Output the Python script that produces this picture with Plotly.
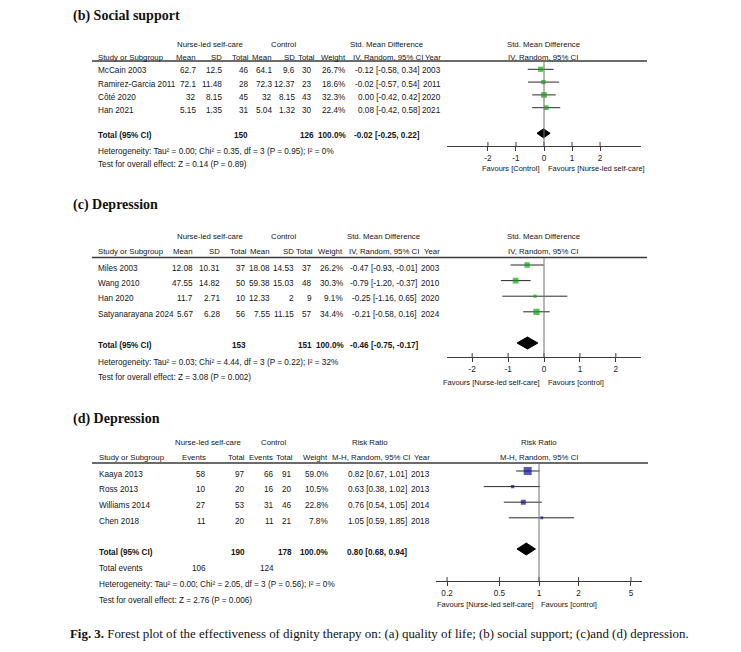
import math
import plotly.graph_objects as go

# page is drawn inside a body with an 8px margin -> figure is offset by 8px
OX, OY = 8, 8
FW, FH = 733, 644
SANS = "Liberation Sans, Arial, sans-serif"
SERIF = "Liberation Serif, Times New Roman, serif"
TXT = "#151515"
FS = 8.2   # body text size
HS = 7.8   # header text size

# ---------------- (b) Social support ----------------
b_study = ["McCain 2003", "Ramirez-Garcia 2011", "Côté 2020", "Han 2021"]
b_exp_mean = [62.7, 72.1, 32, 5.15]
b_exp_sd = [12.5, 11.48, 8.15, 1.35]
b_exp_n = [46, 28, 45, 31]
b_ctl_mean = [64.1, 72.3, 32, 5.04]
b_ctl_sd = [9.6, 12.37, 8.15, 1.32]
b_ctl_n = [30, 23, 43, 30]
b_weight = [26.7, 18.6, 32.3, 22.4]
b_est = [-0.12, -0.02, 0.00, 0.08]
b_lo = [-0.58, -0.57, -0.42, -0.42]
b_hi = [0.34, 0.54, 0.42, 0.58]
b_year = [2003, 2011, 2020, 2021]
b_total = [-0.02, -0.25, 0.22]
b_total_n = [150, 126]
b_het = dict(tau2=0.00, chi2=0.35, df=3, p=0.95, i2=0)
b_overall = dict(z=0.14, p="0.89")

# ---------------- (c) Depression (SMD) ----------------
c_study = ["Miles 2003", "Wang 2010", "Han 2020", "Satyanarayana 2024"]
c_exp_mean = [12.08, 47.55, 11.7, 5.67]
c_exp_sd = [10.31, 14.82, 2.71, 6.28]
c_exp_n = [37, 50, 10, 56]
c_ctl_mean = [18.08, 59.38, 12.33, 7.55]
c_ctl_sd = [14.53, 15.03, 2, 11.15]
c_ctl_n = [37, 48, 9, 57]
c_weight = [26.2, 30.3, 9.1, 34.4]
c_est = [-0.47, -0.79, -0.25, -0.21]
c_lo = [-0.93, -1.20, -1.16, -0.58]
c_hi = [-0.01, -0.37, 0.65, 0.16]
c_year = [2003, 2010, 2020, 2024]
c_total = [-0.46, -0.75, -0.17]
c_total_n = [153, 151]
c_het = dict(tau2=0.03, chi2=4.44, df=3, p=0.22, i2=32)
c_overall = dict(z=3.08, p="0.002")

# ---------------- (d) Depression (RR) ----------------
d_study = ["Kaaya 2013", "Ross 2013", "Williams 2014", "Chen 2018"]
d_exp_events = [58, 10, 27, 11]
d_exp_n = [97, 20, 53, 20]
d_ctl_events = [66, 16, 31, 11]
d_ctl_n = [91, 20, 46, 21]
d_weight = [59.0, 10.5, 22.8, 7.8]
d_est = [0.82, 0.63, 0.76, 1.05]
d_lo = [0.67, 0.38, 0.54, 0.59]
d_hi = [1.01, 1.02, 1.05, 1.85]
d_year = [2013, 2013, 2014, 2018]
d_total = [0.80, 0.68, 0.94]
d_total_n = [190, 178]
d_total_events = [106, 124]
d_het = dict(tau2=0.00, chi2=2.05, df=3, p=0.56, i2=0)
d_overall = dict(z=2.76, p="0.006")

smd_ticks = [-2, -1, 0, 1, 2]
smd_ticktext = ["-2", "-1", "0", "1", "2"]
rr_ticks = [0.2, 0.5, 1, 2, 5]
rr_ticktext = ["0.2", "0.5", "1", "2", "5"]

# ---------------------------------------------------------------
fig = go.Figure()
annotations = []
shapes = []


def px(x):
    return (x - OX) / FW


def py(y):
    return 1 - (y - OY) / FH


def txt(x, y, s, anchor="left", size=FS, bold=False, family=SANS, color=TXT):
    if bold:
        s = "<b>" + s + "</b>"
    annotations.append(dict(x=px(x), y=py(y), xref="paper", yref="paper", text=s,
                            showarrow=False, xanchor=anchor, yanchor="middle", borderpad=0,
                            font=dict(family=family, size=size, color=color)))


def hrule(y, x0=92, x1=647):
    shapes.append(dict(type="line", xref="paper", yref="paper", x0=px(x0), x1=px(x1),
                       y0=py(y), y1=py(y), line=dict(color="#3a3a3a", width=1.3)))


def ci_fmt(e, l, h):
    return f"{e:.2f} [{l:.2f}, {h:.2f}]"


def het_text(h):
    return (f"Heterogeneity: Tau² = {h['tau2']:.2f}; Chi² = {h['chi2']:.2f}, df = {h['df']} "
            f"(P = {h['p']:.2f}); I² = {h['i2']}%")


def forest(idx, est, lo, hi, weight, total, ticks, ticktext, null, color, g, log=False):
    xn = "x" if idx == 1 else f"x{idx}"
    yn = "y" if idx == 1 else f"y{idx}"
    step = g["step"]
    rows = list(range(len(est)))
    axis_row = (g["axis"] - g["row0"]) / step
    top_row = (g["top"] - g["row0"]) / step
    # CI lines
    xs, ys = [], []
    for r, l, h in zip(rows, lo, hi):
        xs += [l, h, None]
        ys += [r, r, None]
    fig.add_trace(go.Scatter(x=xs, y=ys, mode="lines", line=dict(color="#2a2a2a", width=1),
                             xaxis=xn, yaxis=yn, hoverinfo="skip", showlegend=False))
    # squares (area proportional to weight)
    fig.add_trace(go.Scatter(x=est, y=rows, mode="markers",
                             marker=dict(symbol="square", color=color,
                                         size=[g["k"] * math.sqrt(w) for w in weight],
                                         line=dict(width=0)),
                             xaxis=xn, yaxis=yn, showlegend=False))
    # pooled diamond
    dr = len(est) + 1
    dh = g["dh"] / step
    fig.add_trace(go.Scatter(x=[total[1], total[0], total[2], total[0], total[1]],
                             y=[dr, dr - dh, dr, dr + dh, dr], mode="lines", fill="toself",
                             fillcolor="black", line=dict(color="black", width=1),
                             xaxis=xn, yaxis=yn, showlegend=False, hoverinfo="skip"))
    # upper halves of the tick marks (they cross the axis line)
    tx, ty = [], []
    tl = 4 / step
    for t in ticks:
        tx += [t, t, None]
        ty += [axis_row - tl, axis_row, None]
    fig.add_trace(go.Scatter(x=tx, y=ty, mode="lines", line=dict(color="#3a3a3a", width=1),
                             xaxis=xn, yaxis=yn, hoverinfo="skip", showlegend=False))
    # line of no effect
    shapes.append(dict(type="line", xref=xn, yref=yn, x0=null, x1=null, y0=top_row, y1=axis_row,
                       line=dict(color="#707070", width=1)))
    xa = dict(domain=[px(g["x0"]), px(g["x1"])], anchor=yn, showline=True, linecolor="#3a3a3a",
              linewidth=1, ticks="outside", ticklen=4, tickwidth=1, tickcolor="#3a3a3a",
              tickvals=ticks, ticktext=ticktext, showgrid=False, zeroline=False,
              tickfont=dict(family=SANS, size=FS, color="#222222"), fixedrange=True)
    if log:
        xa["type"] = "log"
        xa["range"] = [math.log10(g["xmin"]), math.log10(g["xmax"])]
    else:
        xa["range"] = [g["xmin"], g["xmax"]]
    ya = dict(domain=[py(g["axis"]), py(g["top"])], range=[axis_row, top_row], visible=False,
              anchor=xn, fixedrange=True)
    fig.update_layout(**{("xaxis" if idx == 1 else f"xaxis{idx}"): xa,
                         ("yaxis" if idx == 1 else f"yaxis{idx}"): ya})


GREEN = "#0AA80A"
BLUE = "#10109A"
TS = 14  # panel title size

# ================= panel (b) =================
txt(72, 16, "(b) Social support", size=TS, bold=True, family=SERIF, color="#111111")
txt(210, 44, "Nurse-led self-care", "center", size=HS)
txt(283, 44, "Control", "center", size=HS)
txt(386, 44, "Std. Mean Difference", "center", size=HS)
txt(543, 45, "Std. Mean Difference", "center", size=HS)
hy = 57
txt(97, hy, "Study or Subgroup", size=HS)
for x, s in [(197, "Mean"), (223, "SD"), (250, "Total"), (273, "Mean"), (296, "SD"),
             (316, "Total"), (347, "Weight"), (442, "Year")]:
    txt(x, hy, s, "right", size=HS)
txt(388, hy, "IV, Random, 95% CI", "center", size=HS)
txt(543, 58, "IV, Random, 95% CI", "center", size=HS)
hrule(61)
for i in range(len(b_study)):
    y = 71 + 13.3 * i
    txt(97, y, b_study[i])
    vals = [(197, b_exp_mean[i]), (223, b_exp_sd[i]), (250, b_exp_n[i]), (273, b_ctl_mean[i]),
            (296, b_ctl_sd[i]), (313, b_ctl_n[i]), (346, f"{b_weight[i]:.1f}%"),
            (421, ci_fmt(b_est[i], b_lo[i], b_hi[i])), (442, b_year[i])]
    for x, v in vals:
        txt(x, y, str(v), "right")
txt(97, 136, "Total (95% CI)", bold=True)
txt(249, 136, str(b_total_n[0]), "right", bold=True)
txt(315, 136, str(b_total_n[1]), "right", bold=True)
txt(347, 136, "100.0%", "right", bold=True)
txt(421, 136, ci_fmt(*b_total), "right", bold=True)
txt(97, 151, het_text(b_het))
txt(97, 164, f"Test for overall effect: Z = {b_overall['z']:.2f} (P = {b_overall['p']})")
txt(541, 168, "Favours [Control]", "right", size=7.5)
txt(547, 168, "Favours [Nurse-led self-care]", "left", size=7.5)
forest(1, b_est, b_lo, b_hi, b_weight, b_total, smd_ticks, smd_ticktext, 0, GREEN,
       dict(x0=447, x1=641, xmin=-3.46, xmax=3.46, top=61, axis=146, row0=69.3, step=12.8,
            dh=4.5, k=1.0))

# ================= panel (c) =================
txt(72, 205, "(c) Depression", size=TS, bold=True, family=SERIF, color="#111111")
txt(210, 236, "Nurse-led self-care", "center", size=HS)
txt(283, 236, "Control", "center", size=HS)
txt(383, 236, "Std. Mean Difference", "center", size=HS)
txt(543, 236, "Std. Mean Difference", "center", size=HS)
hy = 252
txt(97, hy, "Study or Subgroup", size=HS)
for x, s in [(194, "Mean"), (221, "SD"), (248, "Total"), (271, "Mean"), (295, "SD"),
             (314, "Total"), (344, "Weight"), (441, "Year")]:
    txt(x, hy, s, "right", size=HS)
txt(384, hy, "IV, Random, 95% CI", "center", size=HS)
txt(543, 252, "IV, Random, 95% CI", "center", size=HS)
hrule(257.5)
for i in range(len(c_study)):
    y = 268 + 15.4 * i
    txt(97, y, c_study[i])
    vals = [(194, c_exp_mean[i]), (221, c_exp_sd[i]), (247, c_exp_n[i]), (271, c_ctl_mean[i]),
            (295, c_ctl_sd[i]), (313, c_ctl_n[i]), (344, f"{c_weight[i]:.1f}%"),
            (418, ci_fmt(c_est[i], c_lo[i], c_hi[i])), (441, c_year[i])]
    for x, v in vals:
        txt(x, y, str(v), "right")
txt(97, 345, "Total (95% CI)", bold=True)
txt(247, 345, str(c_total_n[0]), "right", bold=True)
txt(313, 345, str(c_total_n[1]), "right", bold=True)
txt(345, 345, "100.0%", "right", bold=True)
txt(420, 345, ci_fmt(*c_total), "right", bold=True)
txt(97, 362, het_text(c_het))
txt(97, 377, f"Test for overall effect: Z = {c_overall['z']:.2f} (P = {c_overall['p']})")
txt(541, 382, "Favours [Nurse-led self-care]", "right", size=7.5)
txt(547, 382, "Favours [control]", "left", size=7.5)
forest(2, c_est, c_lo, c_hi, c_weight, c_total, smd_ticks, smd_ticktext, 0, GREEN,
       dict(x0=447, x1=641, xmin=-2.7, xmax=2.7, top=257.5, axis=357, row0=265, step=15.6,
            dh=6, k=1.05))

# ================= panel (d) =================
txt(72, 419, "(d) Depression", size=TS, bold=True, family=SERIF, color="#111111")
txt(208, 442, "Nurse-led self-care", "center", size=HS)
txt(273, 442, "Control", "center", size=HS)
txt(370, 442, "Risk Ratio", "center", size=HS)
txt(539, 442, "Risk Ratio", "center", size=HS)
hy = 457
txt(98, hy, "Study or Subgroup", size=HS)
for x, s in [(207, "Events"), (246, "Total"), (274, "Events"), (294, "Total"), (329, "Weight"),
             (431, "Year")]:
    txt(x, hy, s, "right", size=HS)
txt(371, hy, "M-H, Random, 95% CI", "center", size=HS)
txt(539, 457, "M-H, Random, 95% CI", "center", size=HS)
hrule(463, 92, 648)
for i in range(len(d_study)):
    y = 474 + 15.7 * i
    txt(98, y, d_study[i])
    vals = [(207, d_exp_events[i]), (246, d_exp_n[i]), (275, d_ctl_events[i]), (293, d_ctl_n[i]),
            (329, f"{d_weight[i]:.1f}%"), (408, ci_fmt(d_est[i], d_lo[i], d_hi[i])),
            (431, d_year[i])]
    for x, v in vals:
        txt(x, y, str(v), "right")
txt(98, 552, "Total (95% CI)", bold=True)
txt(246, 552, str(d_total_n[0]), "right", bold=True)
txt(293, 552, str(d_total_n[1]), "right", bold=True)
txt(329, 552, "100.0%", "right", bold=True)
txt(408, 552, ci_fmt(*d_total), "right", bold=True)
txt(98, 568, "Total events")
txt(207, 568, str(d_total_events[0]), "right")
txt(275, 568, str(d_total_events[1]), "right")
txt(98, 584, het_text(d_het))
txt(98, 600, f"Test for overall effect: Z = {d_overall['z']:.2f} (P = {d_overall['p']})")
txt(535, 604, "Favours [Nurse-led self-care]", "right", size=7.5)
txt(540, 604, "Favours [control]", "left", size=7.5)
forest(3, d_est, d_lo, d_hi, d_weight, d_total, rr_ticks, rr_ticktext, 1, BLUE,
       dict(x0=436, x1=642, xmin=10 ** -0.783, xmax=10 ** 0.783, top=462.7, axis=581,
            row0=471, step=15.6, dh=6, k=1.04), log=True)

# ================= caption =================
txt(69, 634, "<b>Fig. 3.</b> Forest plot of the effectiveness of dignity therapy on: (a) quality of life; "
             "(b) social support; (c)and (d) depression.", size=12.9, family=SERIF, color="#111111")

fig.update_layout(width=FW, height=FH, margin=dict(l=0, r=0, t=0, b=0),
                  paper_bgcolor="white", plot_bgcolor="rgba(0,0,0,0)",
                  annotations=annotations, shapes=shapes, showlegend=False)
fig.write_html("out.html")
